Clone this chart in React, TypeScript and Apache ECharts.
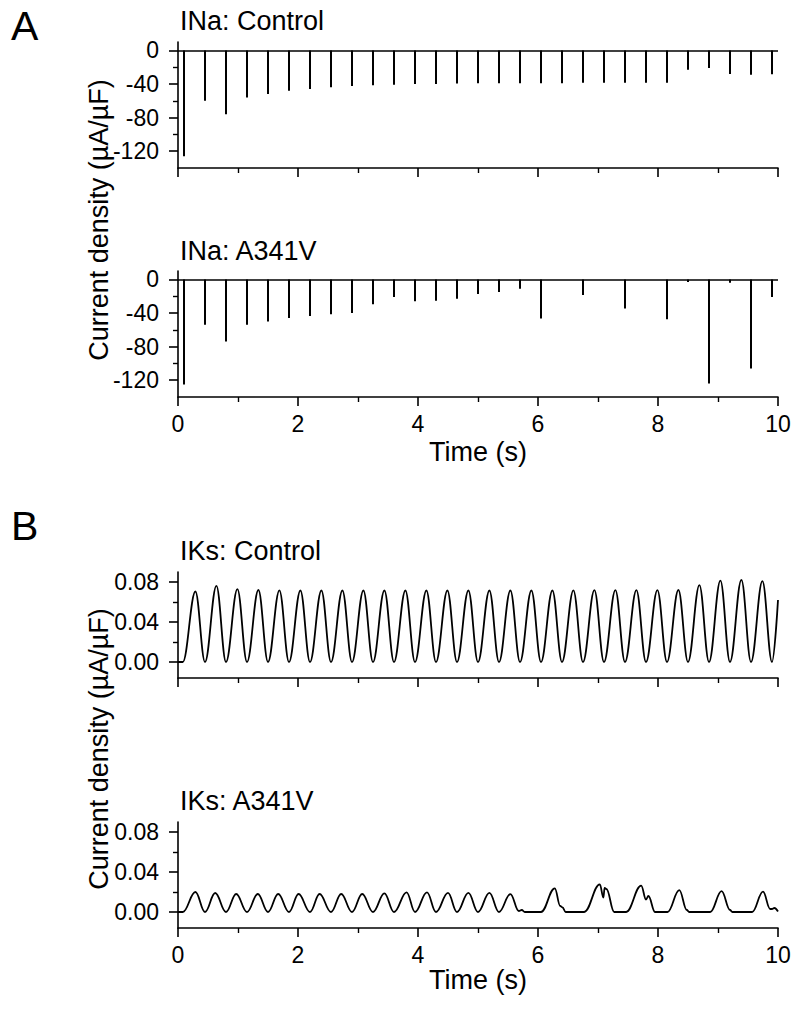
import React, { useEffect, useRef } from "react";
import * as echarts from "echarts";

// ---- data ----
const stimTimes = [0.1, 0.45, 0.8, 1.15, 1.5, 1.85, 2.2, 2.55, 2.9, 3.25, 3.6, 3.95, 4.3, 4.65, 5.0, 5.35, 5.7, 6.05, 6.4, 6.75, 7.1, 7.45, 7.8, 8.15, 8.5, 8.85, 9.2, 9.55, 9.9];
const inaControl = [-126, -60, -76, -56, -52, -48, -46, -44, -42.5, -41.5, -41, -40, -40, -39.5, -39, -39, -39, -39, -39, -38.5, -38.5, -38.5, -38.5, -38.5, -23, -21, -28, -29, -28.5];
const inaA341V = [-125, -54, -74, -54, -50, -46, -43.5, -41.5, -40, -29.5, -21, -26, -25.5, -23, -17.5, -15, -11, -46.5, null, -18.5, null, -34.5, null, -47.5, -3, -124, -4, -106, -21];

const iksCtrlT = [0, 0.08, 0.29, 0.45, 0.64, 0.8, 0.99, 1.15, 1.34, 1.5, 1.69, 1.85, 2.04, 2.2, 2.39, 2.55, 2.74, 2.9, 3.09, 3.25, 3.44, 3.6, 3.79, 3.95, 4.14, 4.3, 4.49, 4.65, 4.84, 5.0, 5.19, 5.35, 5.54, 5.7, 5.89, 6.05, 6.24, 6.4, 6.59, 6.75, 6.94, 7.1, 7.29, 7.45, 7.64, 7.8, 7.99, 8.15, 8.34, 8.5, 8.69, 8.85, 9.04, 9.2, 9.39, 9.55, 9.74, 9.9, 10.0];
const iksCtrlV = [0, 0, 0.0705, 0, 0.0762, 0, 0.0728, 0, 0.072, 0, 0.0716, 0, 0.0715, 0, 0.0715, 0, 0.0715, 0, 0.0715, 0, 0.0715, 0, 0.0715, 0, 0.0715, 0, 0.0715, 0, 0.0715, 0, 0.0715, 0, 0.0715, 0, 0.0715, 0, 0.0715, 0, 0.0716, 0, 0.0718, 0, 0.0718, 0, 0.0718, 0, 0.0718, 0, 0.072, 0, 0.0768, 0, 0.0813, 0, 0.0821, 0, 0.0808, 0, 0.062];

const iksMutT = [0, 0.08, 0.29, 0.45, 0.62, 0.8, 0.97, 1.15, 1.33, 1.5, 1.67, 1.85, 2.01, 2.2, 2.36, 2.55, 2.72, 2.9, 3.07, 3.25, 3.44, 3.6, 3.81, 3.95, 4.15, 4.3, 4.5, 4.65, 4.84, 5.0, 5.19, 5.35, 5.54, 5.68, 5.73, 5.78, 6.05, 6.28, 6.37, 6.41, 6.46, 6.77, 7.03, 7.09, 7.11, 7.14, 7.27, 7.47, 7.72, 7.8, 7.84, 7.95, 8.16, 8.355, 8.48, 8.52, 8.87, 9.06, 9.2, 9.24, 9.57, 9.75, 9.87, 9.9, 9.94, 10.0];
const iksMutV = [0, 0, 0.02, 0, 0.019, 0, 0.018, 0, 0.018, 0, 0.018, 0, 0.018, 0, 0.018, 0, 0.018, 0, 0.018, 0, 0.0187, 0, 0.0197, 0, 0.0197, 0, 0.0192, 0, 0.0192, 0, 0.0192, 0, 0.0179, 0.001, 0.002, 0, 0, 0.0237, 0.006, 0.0045, 0, 0, 0.0277, 0.0144, 0.024, 0.023, 0, 0, 0.0264, 0.0125, 0.016, 0, 0, 0.0219, 0.002, 0, 0, 0.0208, 0.002, 0, 0, 0.0203, 0.003, 0.003, 0.004, 0.0005];

const xTicks = [0, 2, 4, 6, 8, 10];
const inaMajor = [0, -40, -80, -120];
const inaMinor = [-20, -60, -100];
const iksMajor = [0, 0.04, 0.08];
const iksMinor = [0.02, 0.06];

const FONT = '"Liberation Sans", Arial, sans-serif';

const grids = [
  { left: 178, top: 42, width: 600, height: 126 },
  { left: 178, top: 271, width: 600, height: 126 },
  { left: 178, top: 572, width: 600, height: 106 },
  { left: 178, top: 822, width: 600, height: 106 },
];

function buildOption() {
  const axisLine = { show: true, onZero: false, lineStyle: { color: "#000", width: 1.6 } };
  const xAxis = grids.map((_, i) => ({
    type: "value",
    gridIndex: i,
    position: "bottom",
    min: 0,
    max: 10,
    interval: 2,
    axisLine,
    axisTick: { show: true, length: 9, inside: false, lineStyle: { color: "#000", width: 1.6 }, customValues: xTicks },
    minorTick: { show: true, splitNumber: 2, length: 5, lineStyle: { color: "#000", width: 1.4 } },
    axisLabel: {
      show: i === 1 || i === 3,
      customValues: xTicks,
      color: "#000",
      fontSize: 23,
      fontFamily: FONT,
      margin: 15,
    },
    splitLine: { show: false },
    minorSplitLine: { show: false },
  }));

  const yAxis: any[] = [];
  grids.forEach((_, i) => {
    const isNa = i < 2;
    const min = isNa ? -140 : -0.016;
    const max = isNa ? 10 : 0.09;
    const major = isNa ? inaMajor : iksMajor;
    const minor = isNa ? inaMinor : iksMinor;
    yAxis.push({
      type: "value",
      gridIndex: i,
      position: "left",
      offset: 0,
      min,
      max,
      axisLine,
      axisTick: { show: true, length: 9, inside: false, lineStyle: { color: "#000", width: 1.6 }, customValues: major },
      axisLabel: {
        show: true,
        customValues: major,
        color: "#000",
        fontSize: 23,
        fontFamily: FONT,
        margin: 19,
        formatter: (v: number) => (isNa ? String(Math.round(v)) : v.toFixed(2)),
      },
      splitLine: { show: false },
    });
    yAxis.push({
      type: "value",
      gridIndex: i,
      position: "left",
      offset: 0,
      min,
      max,
      axisLine: { show: false, onZero: false },
      axisTick: { show: true, length: 5, inside: false, lineStyle: { color: "#000", width: 1.4 }, customValues: minor },
      axisLabel: { show: false },
      splitLine: { show: false },
    });
  });

  const spikes = (vals: (number | null)[]) =>
    stimTimes.map((t, k) => [t, vals[k]]).filter((d) => d[1] !== null);

  const zeroLine = {
    silent: true,
    symbol: ["none", "none"],
    label: { show: false },
    lineStyle: { color: "#000", width: 1.6, type: "solid" },
    data: [{ yAxis: 0 }],
  };

  const series: any[] = [
    {
      type: "bar",
      xAxisIndex: 0,
      yAxisIndex: 0,
      data: spikes(inaControl),
      barWidth: 2,
      itemStyle: { color: "#000" },
      markLine: zeroLine,
    },
    {
      type: "bar",
      xAxisIndex: 1,
      yAxisIndex: 2,
      data: spikes(inaA341V),
      barWidth: 2,
      itemStyle: { color: "#000" },
      markLine: zeroLine,
    },
    {
      type: "line",
      xAxisIndex: 2,
      yAxisIndex: 4,
      data: iksCtrlT.map((t, k) => [t, iksCtrlV[k]]),
      showSymbol: false,
      smooth: 0.38,
      smoothMonotone: "x",
      lineStyle: { color: "#000", width: 1.8 },
    },
    {
      type: "line",
      xAxisIndex: 3,
      yAxisIndex: 6,
      data: iksMutT.map((t, k) => [t, iksMutV[k]]),
      showSymbol: false,
      smooth: 0.4,
      smoothMonotone: "x",
      lineStyle: { color: "#000", width: 1.8 },
    },
  ];

  const txt = (x: number, y: number, text: string, size: number, align = "left", rotation = 0) => ({
    type: "text",
    x,
    y,
    rotation,
    style: {
      text,
      fill: "#000",
      fontSize: size,
      fontFamily: FONT,
      align,
      verticalAlign: "middle",
      textAlign: align,
      textVerticalAlign: "middle",
    },
  });

  const graphic = [
    txt(11, 26, "A", 41),
    txt(11, 526, "B", 41),
    txt(180, 21, "INa: Control", 27),
    txt(180, 251, "INa: A341V", 27),
    txt(180, 551, "IKs: Control", 27),
    txt(180, 801, "IKs: A341V", 27),
    txt(478, 452, "Time (s)", 27, "center"),
    txt(478, 980, "Time (s)", 27, "center"),
    txt(99, 220, "Current density (\u00b5A/\u00b5F)", 27, "center", Math.PI / 2),
    txt(99, 749, "Current density (\u00b5A/\u00b5F)", 27, "center", Math.PI / 2),
  ];

  return {
    animation: false,
    backgroundColor: "#fff",
    textStyle: { fontFamily: FONT },
    grid: grids,
    xAxis,
    yAxis,
    series,
    graphic,
  };
}

export default function App() {
  const ref = useRef<HTMLDivElement>(null);
  useEffect(() => {
    const chart = echarts.init(ref.current!, null, { renderer: "svg" });
    chart.setOption(buildOption() as any);
    return () => chart.dispose();
  }, []);
  return (
    <div
      ref={ref}
      style={{ position: "absolute", left: 0, top: 0, width: 800, height: 1010, background: "#fff" }}
    />
  );
}
